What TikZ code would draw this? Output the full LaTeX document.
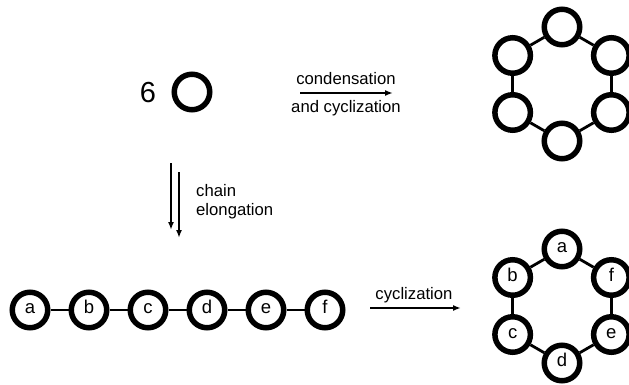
\documentclass[tikz,border=0pt]{standalone}
\usepackage{fontspec}
\setmainfont{Liberation Sans}
\usetikzlibrary{arrows.meta,calc}
\begin{document}
\begin{tikzpicture}[x=1pt,y=-1pt,
  unit/.style={circle,draw,line width=5.5pt,minimum size=35.5pt,inner sep=0pt,
    font=\fontsize{18.5}{18.5}\selectfont,text height=0.72em,text depth=0pt},
  bond/.style={line width=2.8pt},
  rxn/.style={line width=2pt,-{Latex[length=8pt,width=6pt]}},
  lbl/.style={font=\fontsize{16.7}{16.7}\selectfont,inner sep=0pt}]
\useasboundingbox (0,0) rectangle (629,385);
% monomer
\node[font=\fontsize{29}{29}\selectfont,inner sep=0pt] (six) at (148,93) {6};
\node[unit] (m) at (192,92) {};
% condensation arrow
\coordinate (c1) at (300,93);
\coordinate (c2) at (393,93);
\draw[rxn] (c1) -- (c2);
\node[lbl] (ct1) at (346,79) {condensation};
\node[lbl] (ct2) at (346,108) {and cyclization};
% top ring
\foreach \i/\ang in {1/90,2/150,3/210,4/270,5/330,6/30}{
  \node[unit] (t\i) at ($(562,84)+(\ang:57pt)$) {};
}
\foreach \i/\j in {1/2,2/3,3/4,4/5,5/6,6/1}{ \draw[bond] (t\i) -- (t\j); }
% chain elongation double arrow
\coordinate (d1a) at (171,163);
\coordinate (d1b) at (171,230);
\coordinate (d2a) at (179,172);
\coordinate (d2b) at (179,238);
\draw[rxn] (d1a) -- (d1b);
\draw[rxn] (d2a) -- (d2b);
\node[lbl,anchor=west] (ce1) at (196,191) {chain};
\node[lbl,anchor=west] (ce2) at (196,211) {elongation};
% chain
\foreach \i/\l/\x in {1/a/30,2/b/89,3/c/148,4/d/207,5/e/266,6/f/325}{
  \node[unit] (c\l) at (\x,310) {\l};
}
\foreach \p/\q in {a/b,b/c,c/d,d/e,e/f}{ \draw[bond] (c\p) -- (c\q); }
% cyclization arrow
\coordinate (y1) at (370,308);
\coordinate (y2) at (461,308);
\draw[rxn] (y1) -- (y2);
\node[lbl] (yt) at (414,295) {cyclization};
% bottom ring
\foreach \l/\ang in {a/90,b/150,c/210,d/270,e/330,f/30}{
  \node[unit] (r\l) at ($(562,306)+(\ang:57pt)$) {\l};
}
\foreach \p/\q in {a/b,b/c,c/d,d/e,e/f,f/a}{ \draw[bond] (r\p) -- (r\q); }
\end{tikzpicture}
\end{document}
